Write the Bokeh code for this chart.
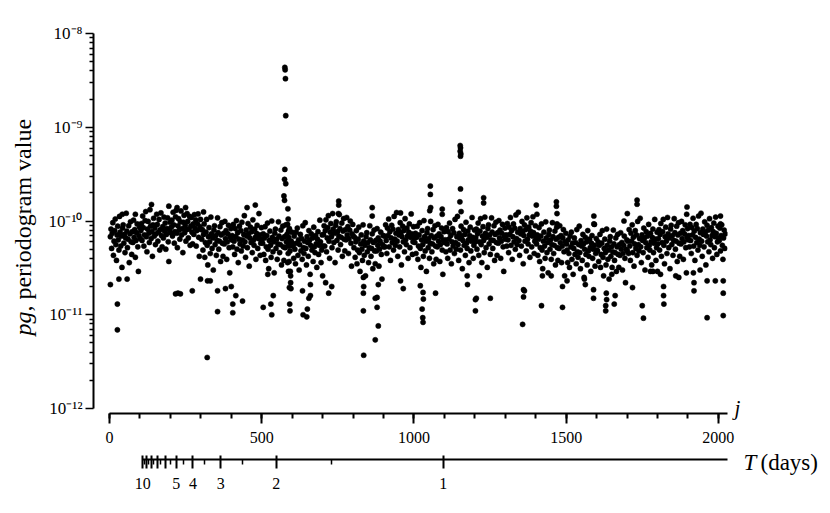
import math
from bokeh.plotting import figure
from bokeh.models import (LinearAxis, FixedTicker, SingleIntervalTicker,
                          CustomJSTickFormatter, Label, Range1d)
from bokeh.embed import file_html
from bokeh.resources import INLINE

# ---------------- data (periodogram values in units of 1e-11) ----------------
# regular band of values, one per odd index j = 3, 5, 7, ...
pg_grid = [
    6.8, 8.2, 5.1, 7.4, 9.6, 4.3, 6.1, 7.9, 10.5, 5.6, 3.8, 7.1, 8.8, 6.3, 4.9, 11.2, 7.6, 5.4, 6.9, 3.2,
    8.4, 9.1, 5.8, 7.2, 4.6, 6.6, 12.1, 7.8, 5.2, 6.4, 8.9, 3.6, 7.3, 9.8, 6.0, 4.4, 7.7, 5.9, 10.2, 6.7,
    8.1, 4.1, 6.2, 7.5, 9.3, 5.3, 2.9, 7.0, 8.6, 6.5,
    7.9, 9.4, 6.2, 11.3, 8.5, 5.4, 7.1, 10.1, 12.6, 6.8, 4.7, 8.2, 9.9, 7.4, 5.9, 13.2, 8.8, 6.5, 7.7, 4.2,
    9.1, 10.7, 6.9, 8.4, 5.6, 7.3, 11.8, 9.2, 6.1, 7.6, 10.4, 4.9, 8.1, 12.2, 7.0, 5.3, 8.7, 6.6, 11.0, 7.8,
    9.5, 5.0, 7.2, 8.3, 10.8, 6.0, 3.7, 8.0, 9.7, 7.5,
    8.6, 10.2, 6.9, 12.4, 9.1, 5.8, 7.7, 11.1, 13.0, 7.4, 5.2, 8.9, 10.6, 8.0, 6.4, 9.8, 12.8, 7.1, 8.3, 4.6,
    9.7, 11.5, 7.5, 9.0, 6.1, 8.1, 12.0, 9.9, 6.6, 8.2, 11.2, 5.5, 8.8, 10.9, 7.6, 5.7, 9.3, 7.2, 11.7, 8.4,
    10.3, 5.4, 7.9, 9.4, 11.9, 6.7, 4.2, 8.7, 10.4, 8.1,
    6.4, 8.1, 4.9, 7.2, 9.3, 4.1, 5.9, 7.6, 10.4, 5.5, 3.4, 6.8, 8.5, 6.0, 4.5, 11.0, 7.3, 5.1, 6.6, 3.0,
    8.0, 8.9, 5.6, 7.0, 4.3, 6.2, 10.8, 7.5, 5.0, 6.1, 8.7, 3.7, 7.1, 9.6, 5.8, 4.2, 7.4, 5.7, 9.9, 6.5,
    7.9, 3.9, 6.0, 7.3, 9.0, 5.2, 2.8, 6.7, 8.3, 6.3,
    7.0, 5.3, 9.2, 6.1, 4.4, 8.3, 6.8, 10.1, 5.0, 7.5, 3.6, 6.4, 8.8, 5.7, 7.9, 4.8, 9.7, 6.3, 5.4, 7.2,
    11.4, 6.0, 4.1, 8.0, 6.9, 5.2, 9.4, 7.3, 3.3, 6.6, 8.6, 5.9, 7.7, 4.6, 10.3, 6.2, 5.5, 8.2, 6.7, 3.9,
    7.4, 9.0, 5.1, 6.5, 12.0, 7.1, 4.3, 5.8, 8.5, 6.4,
    5.8, 7.3, 4.4, 6.6, 8.7, 3.8, 5.3, 7.0, 9.5, 5.0, 3.1, 6.2, 7.8, 5.5, 4.1, 10.0, 6.7, 4.7, 6.0, 2.8,
    7.4, 8.2, 5.1, 6.4, 3.9, 5.7, 9.8, 6.9, 4.6, 5.6, 8.0, 3.4, 6.5, 8.8, 5.3, 3.8, 6.8, 5.2, 9.1, 6.0,
    7.2, 3.6, 5.5, 6.7, 8.3, 4.8, 2.6, 6.1, 7.6, 5.8,
    5.4, 4.0, 6.9, 5.0, 3.5, 7.6, 5.8, 8.4, 4.3, 6.3, 3.0, 5.6, 7.2, 4.8, 6.5, 3.9, 8.9, 5.2, 4.5, 6.1,
    9.6, 5.1, 3.4, 6.8, 5.9, 4.2, 7.9, 6.2, 2.7, 5.5, 7.3, 4.9, 6.6, 3.7, 8.6, 5.3, 4.6, 7.0, 5.7, 3.2,
    6.4, 7.7, 4.4, 5.5, 10.2, 6.0, 3.6, 4.9, 7.1, 5.4,
    7.2, 8.9, 5.4, 7.9, 10.3, 4.7, 6.6, 8.5, 11.4, 6.1, 4.0, 7.6, 9.4, 6.8, 5.2, 12.0, 8.2, 5.9, 7.4, 3.6,
    9.0, 9.8, 6.2, 7.7, 4.9, 6.9, 11.7, 8.3, 5.6, 6.7, 9.5, 4.2, 7.8, 10.6, 6.4, 4.8, 8.1, 6.3, 10.9, 7.1,
    8.7, 4.5, 6.5, 8.0, 10.0, 5.8, 3.3, 7.3, 9.2, 6.9,
    5.2, 6.7, 4.1, 6.0, 7.9, 3.5, 4.9, 6.4, 8.6, 4.6, 2.9, 5.7, 7.1, 5.0, 3.8, 9.1, 6.1, 4.3, 5.5, 2.6,
    6.8, 7.5, 4.7, 5.9, 3.6, 5.2, 8.9, 6.3, 4.2, 5.1, 7.3, 3.1, 5.9, 8.0, 4.8, 3.5, 6.2, 4.8, 8.3, 5.5,
    6.6, 3.3, 5.0, 6.1, 7.6, 4.4, 2.4, 5.6, 7.0, 5.3,
    6.9, 5.3, 9.1, 6.2, 4.5, 8.4, 7.0, 10.5, 5.3, 7.7, 3.8, 6.6, 9.0, 5.9, 8.2, 4.9, 11.2, 6.4, 5.5, 7.4,
    12.3, 6.1, 4.2, 8.1, 7.1, 5.3, 9.6, 7.5, 3.4, 6.8, 8.8, 6.0, 7.9, 4.7, 10.6, 6.3, 5.6, 8.4, 6.9, 4.0,
    7.6, 9.3, 5.2, 6.7, 11.9, 7.3, 4.4, 6.0, 8.7, 6.6,
    5.9, 7.4, 4.5, 6.7, 8.8, 3.9, 5.4, 7.1, 9.6, 5.1, 3.2, 6.3, 7.9, 5.6, 4.2, 10.1, 6.8, 4.8, 6.1, 2.9,
    7.5, 8.3, 5.2, 6.5, 4.0, 5.8, 9.9, 7.0, 4.7, 5.7, 8.1, 3.5, 6.6, 8.9, 5.4, 3.9, 6.9, 5.3, 9.2, 6.1,
    7.3, 3.7, 5.6, 6.8, 8.4, 4.9, 2.7, 6.2, 7.7, 5.9,
    6.3, 4.7, 8.5, 5.7, 4.0, 7.7, 6.4, 9.5, 4.9, 7.0, 3.5, 6.0, 8.3, 5.4, 7.5, 4.5, 10.4, 5.9, 5.0, 6.8,
    11.2, 5.6, 3.8, 7.4, 6.5, 4.9, 8.8, 6.9, 3.1, 6.2, 8.1, 5.5, 7.2, 4.3, 9.7, 5.8, 5.1, 7.8, 6.3, 3.6,
    7.0, 8.6, 4.8, 6.1, 10.9, 6.7, 4.0, 5.5, 8.0, 6.0,
    6.6, 8.2, 5.0, 7.3, 9.5, 4.3, 6.0, 7.8, 10.6, 5.6, 3.6, 6.9, 8.7, 6.2, 4.6, 11.0, 7.4, 5.2, 6.7, 3.2,
    8.3, 9.1, 5.7, 7.1, 4.4, 6.3, 10.8, 7.6, 5.1, 6.2, 8.9, 3.8, 7.2, 9.7, 5.9, 4.3, 7.5, 5.8, 10.1, 6.6,
    8.0, 4.0, 6.1, 7.4, 9.2, 5.3, 2.9, 6.8, 8.4, 6.4,
    7.1, 5.4, 9.4, 6.3, 4.6, 8.6, 7.2, 10.9, 5.5, 7.9, 3.9, 6.8, 9.3, 6.0, 8.4, 5.0, 11.6, 6.5, 5.6, 7.6,
    12.4, 6.2, 4.3, 8.3, 7.3, 5.4, 9.9, 7.7, 3.5, 7.0, 9.1, 6.1, 8.1, 4.8, 10.8, 6.4, 5.7, 8.6, 7.1, 4.1,
    7.8, 9.6, 5.3, 6.9, 11.1, 7.5, 4.5, 6.1, 8.9, 6.7,
    5.7, 7.1, 4.3, 6.4, 8.5, 3.7, 5.2, 6.9, 9.3, 4.9, 3.1, 6.1, 7.6, 5.4, 4.0, 9.8, 6.6, 4.6, 5.9, 2.8,
    7.2, 8.0, 5.0, 6.3, 3.9, 5.6, 9.6, 6.8, 4.5, 5.5, 7.8, 3.4, 6.4, 8.6, 5.2, 3.8, 6.7, 5.1, 8.9, 5.9,
    7.0, 3.6, 5.4, 6.6, 8.1, 4.7, 2.6, 6.0, 7.4, 5.7,
    4.9, 3.6, 6.3, 4.5, 3.2, 6.9, 5.3, 7.6, 3.9, 5.8, 2.7, 5.1, 6.6, 4.4, 5.9, 3.5, 8.1, 4.7, 4.1, 5.6,
    8.8, 4.6, 3.1, 6.2, 5.4, 3.8, 7.2, 5.7, 2.5, 5.0, 6.7, 4.4, 6.0, 3.4, 7.9, 4.8, 4.2, 6.4, 5.2, 2.9,
    5.8, 7.0, 4.0, 5.0, 9.3, 5.5, 3.3, 4.5, 6.5, 4.9,
    4.8, 6.0, 3.7, 5.5, 7.2, 3.2, 4.4, 5.8, 7.9, 4.1, 2.6, 5.1, 6.4, 4.6, 3.4, 8.2, 5.5, 3.9, 4.9, 2.4,
    6.1, 6.8, 4.2, 5.3, 3.2, 4.7, 8.0, 5.7, 3.8, 4.6, 6.6, 2.9, 5.3, 7.2, 4.4, 3.2, 5.6, 4.3, 7.5, 5.0,
    5.9, 3.0, 4.5, 5.5, 6.9, 4.0, 2.2, 5.0, 6.3, 4.8,
    6.1, 4.5, 8.1, 5.4, 3.8, 7.4, 6.1, 9.1, 4.6, 6.7, 3.3, 5.7, 7.9, 5.1, 7.1, 4.3, 9.9, 5.6, 4.8, 6.5,
    10.7, 5.3, 3.6, 7.1, 6.2, 4.6, 8.4, 6.6, 3.0, 5.9, 7.7, 5.2, 6.9, 4.1, 9.2, 5.5, 4.9, 7.4, 6.0, 3.4,
    6.7, 8.2, 4.6, 5.8, 10.4, 6.4, 3.8, 5.2, 7.6, 5.7,
    6.5, 8.1, 4.9, 7.2, 9.4, 4.2, 5.9, 7.7, 10.4, 5.5, 3.5, 6.8, 8.6, 6.1, 4.5, 10.9, 7.3, 5.2, 6.6, 3.1,
    8.2, 9.0, 5.6, 7.0, 4.3, 6.2, 10.6, 7.5, 5.0, 6.1, 8.8, 3.7, 7.1, 9.6, 5.8, 4.2, 7.4, 5.7, 9.9, 6.5,
    7.9, 3.9, 6.0, 7.3, 9.1, 5.2, 2.8, 6.7, 8.3, 6.3,
    7.0, 5.3, 9.2, 6.2, 4.5, 8.5, 7.1, 10.7, 5.4, 7.8, 3.8, 6.7, 9.2, 5.9, 8.3, 4.9, 11.3, 6.4, 5.5, 7.5,
    12.1, 6.1, 4.2, 8.2, 7.2, 5.3, 9.8, 7.6, 3.4, 6.9, 9.0, 6.0, 8.0, 4.7, 10.6, 6.3, 5.6, 8.5, 7.0, 4.0,
    7.7, 9.5, 5.2, 6.8, 11.0, 7.4, 4.4, 6.0, 8.8, 6.6,
    6.2, 8.4, 4.8, 7.0, 9.1, 5.5, 3.9, 6.6, 8.0, 5.1, 7.3,
]

# individual peaks and outlying values: (j, pg in 1e-11)
extra_j = [
    576, 577, 578, 579, 576, 575, 579, 573, 575,
    586, 587, 585, 588, 586, 589, 587, 590, 588, 591, 592, 593,
    1152, 1153, 1152, 1154, 1153, 1153, 1151, 1155,
    1054, 1054, 1055, 1052,
    1229, 1229, 1733, 1733, 1897, 1896, 1468, 1468, 1470, 1470, 1402, 1404, 1591, 1593,
    753, 753, 752, 138, 195, 452, 479, 863, 863, 42, 85, 250, 222, 2007, 2007, 1093, 1093,
    956, 309, 1701, 1690,
    3, 26, 26, 31, 58, 217, 225, 233, 272, 299, 322, 331, 355, 355, 321, 381, 400, 415,
    405, 405, 437, 505, 530, 533, 538, 520, 594, 595, 596, 634, 650, 636, 648, 660, 660,
    655, 700, 720, 730, 710, 834, 835, 834, 834, 835, 873, 879, 883, 873, 883, 879,
    956, 965, 1021, 1030, 1031, 1027, 1029, 1030, 1071, 1175, 1176, 1215, 1205, 1202,
    1202, 1251, 1360, 1363, 1360, 1357, 1419, 1422, 1451, 1488, 1488, 1503, 1590, 1590,
    1632, 1633, 1630, 1630, 1661, 1658, 1650, 1718, 1750, 1754, 1560, 1563, 1777, 1785,
    1800, 1810, 1820, 1820, 1821, 1860, 1870, 1918, 1920, 1920, 1940, 1963, 1990, 2016,
    2016, 2016, 1963,
]
extra_pg = [
    435, 410, 330, 133, 35.5, 27.8, 25, 18.5, 16.6,
    13.5, 10.5, 9.2, 7.8, 6.1, 5.4, 4.5, 3.7, 2.9, 1.95, 1.3, 1.1,
    63.8, 60.3, 55.6, 52, 49.1, 22, 16, 12.6,
    23.6, 19.2, 13.9, 12.9,
    17.7, 15.6, 16.7, 15.1, 14.1, 11.8, 16, 14.4, 12, 9.3, 14.8, 11.8, 11.3, 9.2,
    16.3, 14.8, 12, 15, 14.4, 13.9, 14.8, 13.9, 11.3, 11.8, 11.8, 13.9, 13.9, 11.3, 9.3, 13.4, 11.8,
    12.2, 12.5, 12, 10,
    2.1, 1.3, 0.69, 2.4, 2.4, 1.67, 1.7, 1.67, 1.8, 2.4, 2.3, 2.3, 1.8, 1.08, 0.35, 1.9, 2.0, 1.6,
    1.3, 1.05, 1.4, 1.2, 1.3, 1.0, 1.6, 2.7, 2.9, 2.2, 1.9, 1.8, 1.15, 1.0, 0.95, 2.1, 1.6,
    1.5, 2.6, 1.7, 2.0, 2.2, 2.5, 2.0, 1.7, 1.1, 0.37, 1.5, 1.2, 0.76, 0.54, 2.1, 1.53,
    2.3, 1.9, 2.04, 1.73, 1.47, 1.15, 0.93, 0.83, 1.7, 2.6, 2.1, 2.6, 1.5, 1.45,
    1.1, 1.5, 1.85, 1.8, 1.55, 0.79, 1.25, 2.6, 2.6, 2.0, 1.2, 2.3, 1.85, 1.5,
    1.7, 1.45, 1.25, 1.1, 1.6, 1.3, 2.7, 1.95, 1.25, 0.92, 2.4, 2.1, 2.9, 2.9,
    2.9, 2.7, 2.0, 1.6, 1.3, 2.6, 2.5, 2.8, 2.2, 1.8, 3.0, 2.3, 2.3, 2.3,
    1.7, 0.98, 0.93,
]

j_ticks_interval = 500
y_decades = [-12, -11, -10, -9, -8]
T_major = [10, 9, 8, 7, 6, 5, 4, 3, 2, 1]
T_labelled = [10, 5, 4, 3, 2, 1]
T_minor = [9.5, 8.5, 7.5, 6.5, 5.5, 4.5, 3.5, 2.5, 1.5]
T_SCALE = 1096.0  # j = T_SCALE / T

# ---------------- layout ----------------
W, H = 830, 513
FL, FR, FT, FB = 93, 727, 33, 413      # frame edges (canvas px)
J0, J1 = -52.5, 2030.0
LOG0, LOG1 = -12.0533, -8.0
SERIF = "Liberation Serif"


def cx_to_j(cx):
    return J0 + (cx - FL) / (FR - FL) * (J1 - J0)


def cy_to_pg(cy):
    return 10 ** (LOG1 - (cy - FT) / (FB - FT) * (LOG1 - LOG0))


j_grid = [3 + 2 * i for i in range(len(pg_grid))]
xs = j_grid + extra_j
ys = [v * 1e-11 for v in pg_grid + extra_pg]

p = figure(width=W, height=H, x_range=Range1d(J0, J1),
           y_range=Range1d(10 ** LOG0, 10 ** LOG1), y_axis_type="log",
           output_backend="svg", toolbar_location=None,
           min_border_left=FL, min_border_right=W - FR,
           min_border_top=FT, min_border_bottom=H - FB)
p.grid.visible = False
p.outline_line_color = None
p.background_fill_color = "white"
p.border_fill_color = "white"

p.scatter(x=xs, y=ys, marker="circle", size=5.2,
          fill_color="black", line_color="black", line_width=0.5)

# j axis
xa = p.xaxis[0]
xa.ticker = SingleIntervalTicker(interval=j_ticks_interval, num_minor_ticks=5)
xa.bounds = (0, J1)
xa.axis_line_width = 2
xa.axis_line_color = "black"
xa.major_tick_in = 0
xa.major_tick_out = 10
xa.minor_tick_in = 0
xa.minor_tick_out = 5
xa.major_tick_line_width = 2
xa.minor_tick_line_width = 2
xa.major_label_text_font = SERIF
xa.major_label_text_font_size = "16px"
xa.major_label_text_color = "black"
xa.major_label_standoff = 8
xa.axis_label = " "
xa.axis_label_text_font_size = "10px"
xa.axis_label_standoff = 0

# y axis
ya = p.yaxis[0]
ya.ticker = FixedTicker(
    ticks=[10.0 ** e for e in y_decades],
    minor_ticks=[m * 10.0 ** e for e in y_decades[:-1] for m in range(2, 10)])
ya.formatter = CustomJSTickFormatter(code="""
const e = Math.round(Math.log10(tick));
const sup = {'-': '\u207b', '0': '\u2070', '1': '\u00b9', '2': '\u00b2', '3': '\u00b3',
             '4': '\u2074', '5': '\u2075', '6': '\u2076', '7': '\u2077', '8': '\u2078', '9': '\u2079'};
return '10' + String(e).split('').map(c => sup[c]).join('');
""")
ya.bounds = (1e-12, 1e-8)
ya.axis_line_width = 2
ya.axis_line_color = "black"
ya.major_tick_in = 0
ya.major_tick_out = 8
ya.minor_tick_in = 0
ya.minor_tick_out = 4
ya.major_tick_line_width = 1.5
ya.minor_tick_line_width = 1.5
ya.major_label_text_font = SERIF
ya.major_label_text_font_size = "17px"
ya.major_label_text_color = "black"
ya.major_label_standoff = 3

# T (days) axis
ta = LinearAxis(
    ticker=FixedTicker(ticks=[T_SCALE / t for t in T_major],
                       minor_ticks=[T_SCALE / t for t in T_minor]),
    formatter=CustomJSTickFormatter(
        args=dict(scale=T_SCALE, shown=T_labelled),
        code="const T = Math.round(scale / tick * 2) / 2; return shown.includes(T) ? String(T) : '';"),
    bounds=(T_SCALE / 10.2, J1))
ta.axis_line_width = 2
ta.axis_line_color = "black"
ta.major_tick_in = 4
ta.major_tick_out = 9
ta.minor_tick_in = 0
ta.minor_tick_out = 5
ta.major_tick_line_width = 2
ta.minor_tick_line_width = 1.5
ta.major_label_text_font = SERIF
ta.major_label_text_font_size = "16px"
ta.major_label_text_color = "black"
ta.major_label_standoff = 9
p.add_layout(ta, "below")


# texts (placed in side panels so that they are not clipped to the frame)
def add_label(place, cx, cy, text, style="normal", size="20px", angle=0.0):
    p.add_layout(Label(x=cx_to_j(cx), y=cy_to_pg(cy), text=text,
                       text_font=SERIF, text_font_style=style,
                       text_font_size=size, text_color="black",
                       text_align="left", text_baseline="middle",
                       angle=angle), place)


add_label("right", 734, 407, "j", style="italic", size="21px")
add_label("above", 743, 462, "T", style="italic", size="23px")
add_label("right", 760, 462, "(days)", size="23px")
add_label("right", 22, 335, "pg", style="italic", size="24px", angle=math.pi / 2)
add_label("left", 22, 311, ", periodogram value", size="24px", angle=math.pi / 2)

with open("out.html", "w", encoding="utf-8") as f:
    f.write(file_html(p, INLINE))
